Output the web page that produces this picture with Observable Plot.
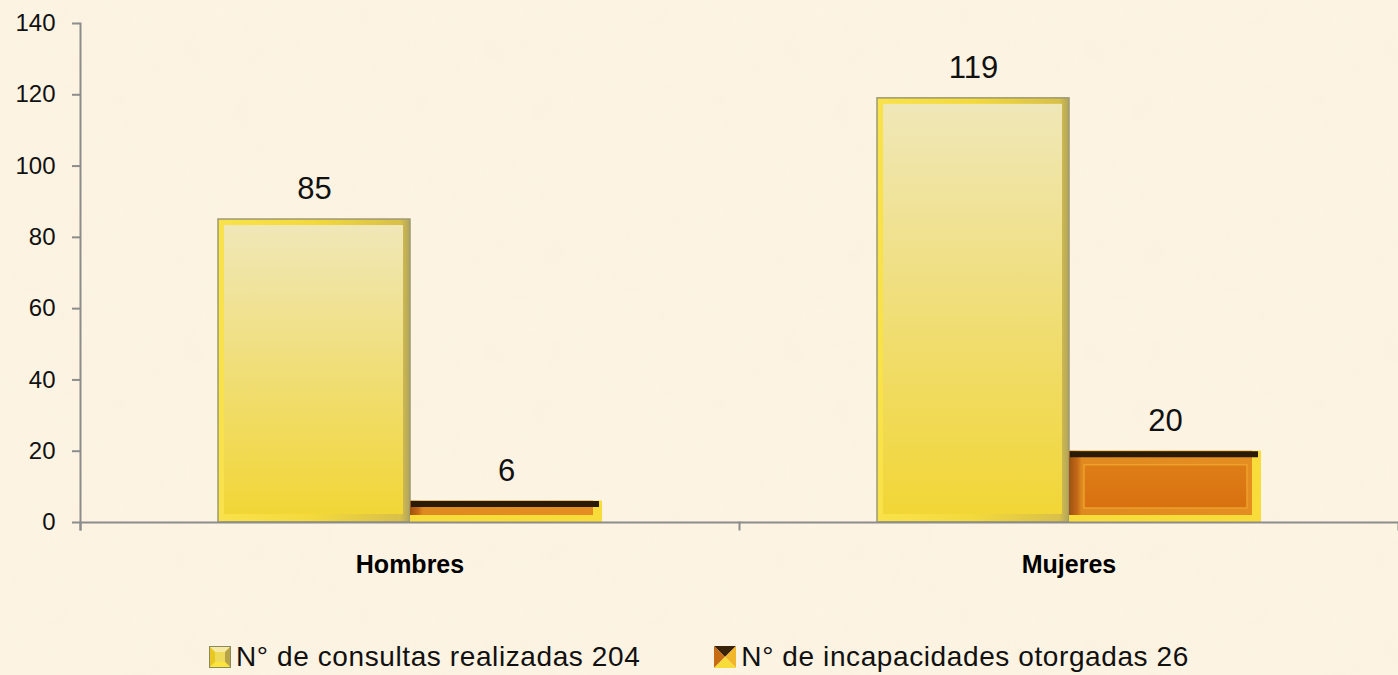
<!DOCTYPE html>
<html>
<head>
<meta charset="utf-8">
<script src="https://cdn.jsdelivr.net/npm/d3@7"></script>
<script src="https://cdn.jsdelivr.net/npm/@observablehq/plot@0.6"></script>
<style>
  html, body { margin: 0; padding: 0; width: 1398px; height: 675px; overflow: hidden; }
  body {
    background-color: #fdf4e4;
    background-image: url("data:image/svg+xml;utf8,<svg xmlns='http://www.w3.org/2000/svg' width='300' height='300'><filter id='n'><feTurbulence type='fractalNoise' baseFrequency='0.03' numOctaves='3' seed='4'/><feColorMatrix values='0 0 0 0 0.88  0 0 0 0 0.78  0 0 0 0 0.58  0 0 0 0.14 0'/></filter><rect width='300' height='300' filter='url(%23n)'/></svg>");
    font-family: "Liberation Sans", Arial, sans-serif;
  }
  #chart svg { display: block; }
  #legend {
    display: flex; justify-content: center; align-items: center;
    gap: 74px; height: 36px; padding-top: 24px;
    font-size: 28px; letter-spacing: 0.6px; color: #111;
  }
  .item { display: flex; align-items: center; gap: 5px; white-space: nowrap; }
  .item svg { display: block; }
</style>
</head>
<body>
<div id="chart"></div>
<div id="legend"></div>
<script>
const categories = ["Hombres", "Mujeres"];
const seriesNames = ["N° de consultas realizadas 204", "N° de incapacidades otorgadas 26"];
const consultasValues = [85, 119];
const incapacidadesValues = [6, 20];
const yTickValues = [0, 20, 40, 60, 80, 100, 120, 140];

const consultas = categories.map((g, i) => ({group: g, series: seriesNames[0], value: consultasValues[i]}));
const incapacidades = categories.map((g, i) => ({group: g, series: seriesNames[1], value: incapacidadesValues[i]}));
const allBars = consultas.concat(incapacidades);

const axisColor = "#8c8c8c";

const chart = Plot.plot({
  width: 1398,
  height: 615,
  marginLeft: 80,
  marginRight: 0,
  marginTop: 23,
  marginBottom: 93,
  style: {background: "transparent", fontFamily: "'Liberation Sans', Arial, sans-serif", overflow: "visible"},
  fx: {domain: categories, padding: 0, axis: null},
  x: {domain: seriesNames, paddingInner: 0, paddingOuter: 0.716, axis: null},
  y: {domain: [0, 140], axis: null},
  marks: [
    // consultas bars (bevel look)
    Plot.barY(consultas, {fx: "group", x: "series", y: "value", fill: "url(#cOuter)", stroke: "#9c9a72", strokeWidth: 1.5}),
    Plot.barY(consultas, {fx: "group", x: "series", y: "value", fill: "url(#cInner)", insetLeft: 6, insetRight: 7, insetTop: 6, insetBottom: 8}),
    // incapacidades bars
    Plot.barY(incapacidades, {fx: "group", x: "series", y: "value", fill: "#f8dc3a"}),
    Plot.barY(incapacidades, {fx: "group", x: "series", y: "value", fill: "url(#iMain)", insetRight: 9, insetBottom: 7}),
    Plot.barY(incapacidades, {fx: "group", x: "series", y: "value", fill: "url(#iPanel)", stroke: "#eea02a", strokeWidth: 1.5, insetLeft: 15, insetRight: 14, insetTop: 14, insetBottom: 14}),
    Plot.tickY(incapacidades, {fx: "group", x: "series", y: "value", stroke: "#2a1a08", strokeWidth: 6, dy: 3, insetLeft: 1, insetRight: 3}),
    // axes lines
    Plot.frame({anchor: "left", facetAnchor: "left", stroke: axisColor, strokeWidth: 2, insetBottom: -7}),
    Plot.frame({anchor: "left", stroke: axisColor, strokeWidth: 2, insetTop: 499, insetBottom: -7}),
    Plot.frame({anchor: "right", facetAnchor: "right", stroke: axisColor, strokeWidth: 2, insetTop: 499, insetBottom: -7}),
    Plot.ruleY([0], {stroke: axisColor, strokeWidth: 2}),
    Plot.axisY({ticks: yTickValues, tickSize: 8, tickPadding: 17, fontSize: 24, stroke: axisColor, strokeWidth: 2, fill: "#111", label: null, tickFormat: d => String(d)}),
    Plot.axisFx({anchor: "bottom", tickSize: 0, tickPadding: 33, fontSize: 25, fontWeight: "bold", fill: "#000", label: null}),
    // value labels
    Plot.text(allBars, {fx: "group", x: "series", y: "value", text: d => String(d.value), dy: -30, fontSize: 31, fill: "#111"})
  ]
});

d3.select(chart).insert("defs", ":first-child").html(`
  <linearGradient id="cOuter" x1="0" y1="0" x2="1" y2="0">
    <stop offset="0" stop-color="#f9e24a"/>
    <stop offset="0.5" stop-color="#f3d93c"/>
    <stop offset="0.95" stop-color="#d8c04a"/>
    <stop offset="1" stop-color="#b0a45c"/>
  </linearGradient>
  <linearGradient id="cInner" x1="0" y1="0" x2="0" y2="1">
    <stop offset="0" stop-color="#f0e7b8"/>
    <stop offset="0.5" stop-color="#f0de78"/>
    <stop offset="1" stop-color="#f2d636"/>
  </linearGradient>
  <linearGradient id="iMain" x1="0" y1="0" x2="1" y2="0">
    <stop offset="0" stop-color="#9c520e"/>
    <stop offset="0.045" stop-color="#c46818"/>
    <stop offset="0.07" stop-color="#df8a20"/>
    <stop offset="1" stop-color="#e48e22"/>
  </linearGradient>
  <linearGradient id="iPanel" x1="0" y1="0" x2="0" y2="1">
    <stop offset="0" stop-color="#de7e18"/>
    <stop offset="1" stop-color="#d87010"/>
  </linearGradient>
`);

document.getElementById("chart").appendChild(chart);

const iconC = `<svg width="22" height="22" viewBox="0 0 22 22">
  <rect x="0.5" y="0.5" width="21" height="21" fill="#f2d840" stroke="#8a8a62"/>
  <polygon points="1,1 21,1 16,6 6,6" fill="#f6eaa0"/>
  <polygon points="1,1 6,6 6,16 1,21" fill="#e8c820"/>
  <polygon points="21,1 21,21 16,16 16,6" fill="#b8a448"/>
  <polygon points="1,21 6,16 16,16 21,21" fill="#fbe43c"/>
  <rect x="6" y="6" width="10" height="10" fill="#f0da5a"/>
</svg>`;
const iconI = `<svg width="22" height="22" viewBox="0 0 22 22">
  <polygon points="0,0 22,0 11,11" fill="#3a2208"/>
  <polygon points="0,0 11,11 0,22" fill="#c86c14"/>
  <polygon points="22,0 22,22 11,11" fill="#f2b62a"/>
  <polygon points="0,22 11,11 22,22" fill="#f8dc3a"/>
</svg>`;
const legend = document.getElementById("legend");
[iconC, iconI].forEach((icon, i) => {
  const item = document.createElement("div");
  item.className = "item";
  item.innerHTML = icon + `<span>${seriesNames[i]}</span>`;
  legend.appendChild(item);
});
</script>
</body>
</html>
